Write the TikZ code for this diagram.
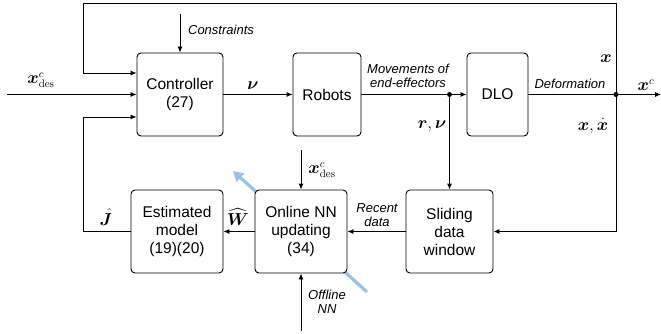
\documentclass[tikz,border=0pt]{standalone}
\usepackage{amsmath,bm}
\usepackage[no-math]{fontspec}
\setmainfont{Liberation Sans}
\usetikzlibrary{arrows.meta}
\definecolor{lblue}{RGB}{155,194,230}
\begin{document}
\begin{tikzpicture}[x=1pt,y=-1pt,
  blk/.style={draw, rounded corners=4pt, line width=0.9pt, fill=white, align=center,
    font=\fontsize{15.5}{18}\selectfont, inner sep=0pt},
  con/.style={line width=0.9pt, -{Latex[length=6pt,width=5pt]}},
  ln/.style={line width=0.9pt},
  lbl/.style={font=\fontsize{13}{14.5}\selectfont\itshape, align=center, inner sep=0pt},
  ml/.style={font=\fontsize{16}{17}\selectfont, inner sep=0pt},
  dot/.style={circle, fill=black, inner sep=0pt, minimum size=5pt}]
\useasboundingbox (0,0) rectangle (661,334);
% blue arrow behind boxes
\coordinate (ba) at (367,292);
\coordinate (bb) at (233,171);
\draw[lblue, line width=3.2pt, -{Triangle[length=10pt,width=11pt]}] (ba) -- (bb);
% boxes
\node[blk, minimum width=86pt, minimum height=83pt] (ctrl) at (180,94.5) {Controller\\(27)};
\node[blk, minimum width=68pt, minimum height=83pt] (rob) at (327,94.5) {Robots};
\node[blk, minimum width=61pt, minimum height=83pt] (dlo) at (497.5,94.5) {DLO};
\node[blk, minimum width=92pt, minimum height=83pt] (est) at (177,231.5) {Estimated\\model\\(19)(20)};
\node[blk, minimum width=92pt, minimum height=83pt] (onl) at (301,231.5) {Online NN\\updating\\(34)};
\node[blk, minimum width=87pt, minimum height=83pt] (sld) at (449.5,231.5) {Sliding\\data\\window};
% coordinates
\coordinate (in) at (7,94.5);
\node[dot] (d1) at (449.5,94.5) {};
\node[dot] (d2) at (616,94.5) {};
\coordinate (out) at (661,94.5);
\coordinate (tr) at (616,3);
\coordinate (tl) at (83,3);
\coordinate (bl) at (83,231.5);
\coordinate (cs) at (180,14);
\coordinate (xd) at (301,150);
\coordinate (off) at (301,331);
% connectors
\draw[con] (in) -- (ctrl.west);
\draw[con] (ctrl) -- (rob);
\draw[ln] (rob.east) -- (d1.center);
\draw[con] (d1.center) -- (dlo.west);
\draw[ln] (dlo.east) -- (d2.center);
\draw[con] (d2.center) -- (out);
\draw[con] (d2.center) -- (tr) -- (tl) |- ([yshift=21.5pt]ctrl.west);
\draw[con] (est.west) -- (bl) |- ([yshift=-22.5pt]ctrl.west);
\draw[con] (cs) -- (ctrl.north);
\draw[con] (d1.center) -- (sld.north);
\draw[con] (d2.center) |- (sld.east);
\draw[con] (sld) -- (onl);
\draw[con] (onl) -- (est);
\draw[con] (xd) -- (onl.north);
\draw[con] (off) -- (onl.south);
% labels
\node[ml] (l1) at (41,80) {$\bm{x}^{c}_{\mathrm{des}}$};
\node[lbl] (l2) at (221,30) {Constraints};
\node[ml] (l3) at (253,86) {$\bm{\nu}$};
\node[lbl] (l4) at (408,76) {Movements of\\end-effectors};
\node[lbl] (l5) at (570,84) {Deformation};
\node[ml] (l6) at (606,59) {$\bm{x}$};
\node[ml] (l7) at (646,85) {$\bm{x}^{c}$};
\node[ml] (l8) at (593,126) {$\bm{x},\dot{\bm{x}}$};
\node[ml] (l9) at (432,126) {$\bm{r},\bm{\nu}$};
\node[ml] (l10) at (322,170) {$\bm{x}^{c}_{\mathrm{des}}$};
\node[ml] (l11) at (106,217) {$\hat{\bm{J}}$};
\node[ml] (l12) at (238,217) {$\widehat{\bm{W}}$};
\node[lbl] (l13) at (377,215) {Recent\\data};
\node[lbl] (l14) at (327,302) {Offline\\NN};
\end{tikzpicture}
\end{document}
